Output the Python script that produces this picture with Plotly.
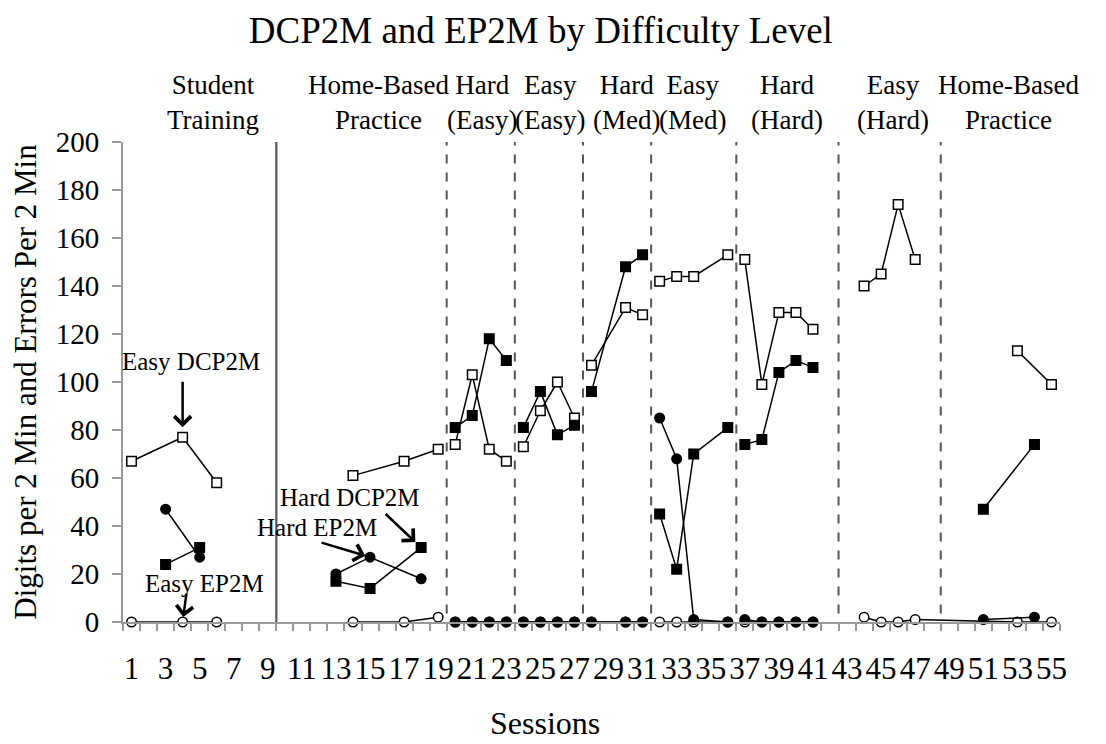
import plotly.graph_objects as go

# ---- data: one list per phase segment (lines break between phases) ----
easy_dcp_sessions = [[1, 4, 6], [14, 17, 19], [20, 21, 22, 23], [24, 25, 26, 27],
                     [28, 30, 31], [32, 33, 34, 36], [37, 38, 39, 40, 41],
                     [44, 45, 46, 47], [53, 55]]
easy_dcp_values = [[67, 77, 58], [61, 67, 72], [74, 103, 72, 67], [73, 88, 100, 85],
                   [107, 131, 128], [142, 144, 144, 153], [151, 99, 129, 129, 122],
                   [140, 145, 174, 151], [113, 99]]

easy_ep_sessions = [[1, 4, 6], [14, 17, 19], [20, 21, 22, 23], [24, 25, 26, 27],
                    [28, 30, 31], [32, 33, 34, 36], [37, 38, 39, 40, 41],
                    [44, 45, 46, 47, 53, 55]]
easy_ep_values = [[0, 0, 0], [0, 0, 2], [0, 0, 0, 0], [0, 0, 0, 0],
                  [0, 0, 0], [0, 0, 0, 0], [0, 0, 0, 0, 0],
                  [2, 0, 0, 1, 0, 0]]

hard_dcp_sessions = [[3, 5], [13, 15, 18], [20, 21, 22, 23], [24, 25, 26, 27],
                     [28, 30, 31], [32, 33, 34, 36], [37, 38, 39, 40, 41], [51, 54]]
hard_dcp_values = [[24, 31], [17, 14, 31], [81, 86, 118, 109], [81, 96, 78, 82],
                   [96, 148, 153], [45, 22, 70, 81], [74, 76, 104, 109, 106], [47, 74]]

hard_ep_sessions = [[3, 5], [13, 15, 18], [20, 21, 22, 23], [24, 25, 26, 27],
                    [28, 30, 31], [32, 33, 34, 36], [37, 38, 39, 40, 41], [51, 54]]
hard_ep_values = [[47, 27], [20, 27, 18], [0, 0, 0, 0], [0, 0, 0, 0],
                  [0, 0, 0], [85, 68, 1, 0], [1, 0, 0, 0, 0], [1, 2]]

phase_boundaries = [9.5, 19.5, 23.5, 27.5, 31.5, 36.5, 42.5, 48.5]
phase_names = ["Student<br>Training", "Home-Based<br>Practice", "Hard<br>(Easy)",
               "Easy<br>(Easy)", "Hard<br>(Med)", "Easy<br>(Med)", "Hard<br>(Hard)",
               "Easy<br>(Hard)", "Home-Based<br>Practice"]
phase_label_x = [5.8, 15.5, 21.55, 25.55, 30.05, 33.95, 39.5, 45.7, 52.45]

x_tick_vals = list(range(1, 56, 2))
y_tick_vals = list(range(0, 201, 20))

SERIF = "Liberation Serif, Times New Roman, serif"


def join_segments(segments):
    out = []
    for i, seg in enumerate(segments):
        if i:
            out.append(None)
        out.extend(seg)
    return out


fig = go.Figure()

series = [
    (easy_ep_sessions, easy_ep_values, "circle", "white", "Easy EP2M"),
    (easy_dcp_sessions, easy_dcp_values, "square", "white", "Easy DCP2M"),
    (hard_dcp_sessions, hard_dcp_values, "square", "black", "Hard DCP2M"),
    (hard_ep_sessions, hard_ep_values, "circle", "black", "Hard EP2M"),
]
for xs, ys, sym, fill, name in series:
    fig.add_trace(go.Scatter(
        x=join_segments(xs), y=join_segments(ys), name=name,
        mode="lines+markers", connectgaps=False, cliponaxis=False,
        line=dict(color="black", width=1.5),
        marker=dict(symbol=sym, size=9.5, color=fill,
                    line=dict(color="black", width=1.5)),
        showlegend=False,
    ))

# phase change lines: first solid, rest dashed
for i, xb in enumerate(phase_boundaries):
    fig.add_shape(type="line", xref="x", yref="y", x0=xb, x1=xb,
                  y0=0 if i == 0 else -4, y1=200 if i == 0 else 201,
                  line=dict(color="#555555", width=2.2 if i == 0 else 2,
                            dash="solid" if i == 0 else "dash"))

annotations = []
for name, xp in zip(phase_names, phase_label_x):
    annotations.append(dict(text=name, x=xp, xref="x", y=1.083, yref="paper",
                            showarrow=False, xanchor="center", yanchor="middle",
                            font=dict(family=SERIF, size=27, color="black")))

# series labels with pointing arrows
label_text = ["Easy DCP2M", "Easy EP2M", "Hard DCP2M", "Hard EP2M"]
label_pos = [(4.52, 108.7), (5.31, 16.2), (13.85, 52.0), (11.9, 39.5)]
for t, (lx, ly) in zip(label_text, label_pos):
    annotations.append(dict(text=t, x=lx, y=ly, xref="x", yref="y", showarrow=False,
                            xanchor="center", yanchor="middle",
                            font=dict(family=SERIF, size=25, color="black")))

arrow_specs = [
    (easy_dcp_sessions[0][1], easy_dcp_values[0][1], 0, -57, 10),
    (easy_ep_sessions[0][1], easy_ep_values[0][1], 4, -30, 5),
    (hard_dcp_sessions[1][2], hard_dcp_values[1][2], -37, -35, 8),
    (hard_ep_sessions[1][1], hard_ep_values[1][1], -50, -15, 5),
]
for ax_x, ax_y, dx, dy, so in arrow_specs:
    annotations.append(dict(text="", x=ax_x, y=ax_y, xref="x", yref="y",
                            showarrow=True, ax=dx, ay=dy, standoff=so,
                            arrowhead=4, arrowsize=1.3, arrowwidth=2.5,
                            arrowcolor="black"))

# x-axis title
annotations.append(dict(text="Sessions", x=0.45, xref="paper", y=-0.21, yref="paper",
                        showarrow=False, xanchor="center", yanchor="middle",
                        font=dict(family=SERIF, size=32, color="black")))

fig.update_layout(
    width=1106, height=744,
    margin=dict(l=123, r=46, t=142, b=122),
    paper_bgcolor="white", plot_bgcolor="white",
    title=dict(text="DCP2M and EP2M by Difficulty Level", x=0.489, xanchor="center",
               y=0.96, yanchor="middle",
               font=dict(family=SERIF, size=37, color="black")),
    annotations=annotations,
    xaxis=dict(range=[0.5, 55.5], tickvals=x_tick_vals,
               ticktext=[str(v) for v in x_tick_vals], ticks="",
               ticklabelstandoff=18,
               minor=dict(ticks="outside", ticklen=7, tick0=0.5, dtick=1,
                          tickcolor="#999999", tickwidth=1.5),
               showline=True, linecolor="#999999", linewidth=2,
               showgrid=False, zeroline=False,
               tickfont=dict(family=SERIF, size=31, color="black")),
    yaxis=dict(range=[0, 200], tickvals=y_tick_vals, ticks="outside", ticklen=9,
               tickcolor="#999999", tickwidth=1.5, ticklabelstandoff=7,
               showline=True, linecolor="#999999", linewidth=2,
               showgrid=False, zeroline=False,
               title=dict(text="Digits per 2 Min and Errors Per 2 Min",
                          font=dict(family=SERIF, size=31, color="black"),
                          standoff=10),
               tickfont=dict(family=SERIF, size=29, color="black")),
)

fig.write_html("out.html")
